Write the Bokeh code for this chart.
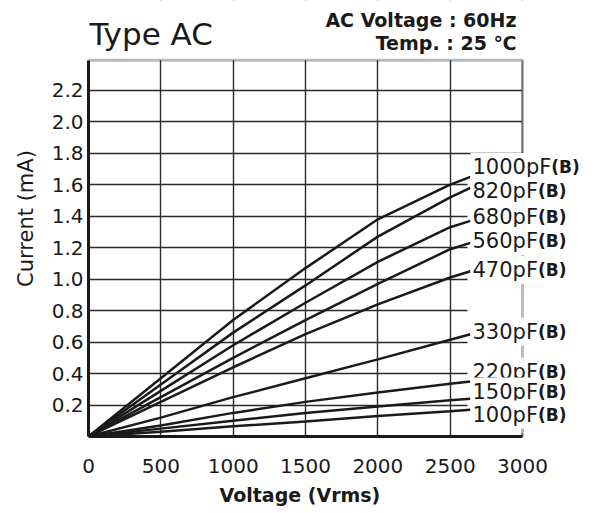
from bokeh.plotting import figure
from bokeh.models import Range1d, FixedTicker, Label, BoxAnnotation, Title
from bokeh.embed import file_html
from bokeh.resources import INLINE

# ---------------- data ----------------
voltage = [0, 500, 1000, 1500, 2000, 2500, 2640]
cap_names = ["1000pF", "820pF", "680pF", "560pF", "470pF", "330pF", "220pF", "150pF", "100pF"]
cap_suffix = "(B)"
cur_1000 = [0, 0.37, 0.74, 1.07, 1.38, 1.60, 1.65]
cur_820 = [0, 0.33, 0.66, 0.96, 1.27, 1.52, 1.58]
cur_680 = [0, 0.29, 0.58, 0.85, 1.11, 1.33, 1.37]
cur_560 = [0, 0.25, 0.50, 0.74, 0.97, 1.19, 1.23]
cur_470 = [0, 0.22, 0.44, 0.65, 0.84, 1.01, 1.05]
cur_330 = [0, 0.12, 0.25, 0.37, 0.49, 0.615, 0.65]
cur_220 = [0, 0.07, 0.15, 0.22, 0.28, 0.335, 0.35]
cur_150 = [0, 0.05, 0.10, 0.15, 0.19, 0.23, 0.24]
cur_100 = [0, 0.03, 0.065, 0.095, 0.13, 0.16, 0.17]
currents = [cur_1000, cur_820, cur_680, cur_560, cur_470, cur_330, cur_220, cur_150, cur_100]

x_ticks = [0, 500, 1000, 1500, 2000, 2500, 3000]
x_tick_labels = ["0", "500", "1000", "1500", "2000", "2500", "3000"]
y_ticks = [0.2, 0.4, 0.6, 0.8, 1.0, 1.2, 1.4, 1.6, 1.8, 2.0, 2.2]
y_tick_labels = ["0.2", "0.4", "0.6", "0.8", "1.0", "1.2", "1.4", "1.6", "1.8", "2.0", "2.2"]

title_text = "Type AC"
cond1_text = "AC Voltage : 60Hz"
cond2_text = "Temp. : 25 \u2103"
x_title = "Voltage (Vrms)"
y_title = "Current (mA)"

FONT = "DejaVu Sans"
INK = "#1a1a1a"

# ---------------- layout ----------------
W, H = 592, 512
GL, GT, GR, GB = 88, 60, 522, 437        # chart box edges (canvas px)
X0, X1 = 0, 3000
Y0, Y1 = 0, 2.39
PPX = (GR - GL) / (X1 - X0)
PPY = (GB - GT) / (Y1 - Y0)
XE = X1 + (W - GR) / PPX                  # frame extends to canvas right edge
YE = Y1 + GT / PPY                        # frame extends to canvas top edge

def dx(px):
    return X0 + (px - GL) / PPX

def dy(py):
    return Y1 - (py - GT) / PPY

p = figure(width=W, height=H, output_backend="svg", toolbar_location=None, title_location=None,
           x_range=Range1d(X0, XE), y_range=Range1d(Y0, YE),
           min_border_left=GL, min_border_right=0, min_border_top=0, min_border_bottom=H - GB,
           outline_line_color=None, background_fill_color="white", border_fill_color="white")

# axes
xa = p.below[0]
ya = p.left[0]
xa.ticker = FixedTicker(ticks=x_ticks)
ya.ticker = FixedTicker(ticks=y_ticks)
xa.major_label_overrides = {t: s for t, s in zip(x_ticks, x_tick_labels)}
ya.major_label_overrides = {t: s for t, s in zip(y_ticks, y_tick_labels)}
xa.bounds = (X0, X1)
ya.bounds = (Y0, Y1)
for ax in (xa, ya):
    ax.axis_line_width = 3
    ax.axis_line_color = INK
    ax.major_tick_line_color = None
    ax.minor_tick_line_color = None
    ax.major_tick_in = 0
    ax.major_tick_out = 0
    ax.major_label_text_font = FONT
    ax.major_label_text_font_size = "20px"
    ax.major_label_text_color = INK
xa.major_label_standoff = 22
ya.major_label_standoff = 5

p.add_layout(Title(text=x_title, text_font=FONT, text_font_style="bold", text_font_size="19px",
                   text_color=INK, align="left", offset=219 - GL, standoff=13), "below")
p.add_layout(Title(text=y_title, text_font=FONT, text_font_style="normal", text_font_size="21px",
                   text_color=INK, align="center", offset=-5, standoff=21), "left")

p.xgrid.ticker = FixedTicker(ticks=x_ticks)
p.ygrid.ticker = FixedTicker(ticks=y_ticks)
p.grid.grid_line_color = "#2a2a2a"
p.grid.grid_line_width = 1.4

# white panels that trim the grid to the chart box and behind the curve labels
for kw in (dict(bottom=Y1), dict(left=X1), dict(left=dx(467), bottom=0.02, top=dy(155))):
    p.add_layout(BoxAnnotation(fill_color="white", fill_alpha=1.0, line_color=None,
                               level="underlay", **kw))

# curves
for cur in currents:
    p.line(voltage, cur, line_color=INK, line_width=2.5)

# chart border
p.add_layout(BoxAnnotation(left=X0, right=X1, bottom=Y0, top=Y1, fill_color=None,
                           line_color=INK, line_width=3))

# curve labels
label_x = dx(470)
label_y = [dy(v) for v in (167, 191, 217, 241, 270, 332, 372, 392, 415)]
EM = {"p": 0.635, "F": 0.575}
LFS = 21
for name, ly in zip(cap_names, label_y):
    p.add_layout(Label(x=label_x, y=ly, text=name, text_font=FONT, text_font_size=f"{LFS}px",
                       text_color=INK, text_align="left", text_baseline="middle",
                       background_fill_color="white", padding=2))
    w = sum(EM.get(c, 0.636) for c in name) * LFS
    p.add_layout(Label(x=label_x, y=ly, x_offset=w + 2, y_offset=0, text=cap_suffix,
                       text_font=FONT, text_font_style="bold", text_font_size="17px",
                       text_color=INK, text_align="left", text_baseline="middle"))

# heading texts
p.add_layout(Label(x=dx(89), y=dy(34), text=title_text, text_font=FONT, text_font_size="31px",
                   text_color=INK, text_align="left", text_baseline="alphabetic"))
p.add_layout(Label(x=dx(516), y=dy(20), text=cond1_text, text_font=FONT, text_font_style="bold",
                   text_font_size="19px", text_color=INK, text_align="right",
                   text_baseline="alphabetic"))
p.add_layout(Label(x=dx(516), y=dy(43), text=cond2_text, text_font=FONT, text_font_style="bold",
                   text_font_size="19px", text_color=INK, text_align="right",
                   text_baseline="alphabetic"))

open("out.html", "w").write(file_html(p, INLINE))
